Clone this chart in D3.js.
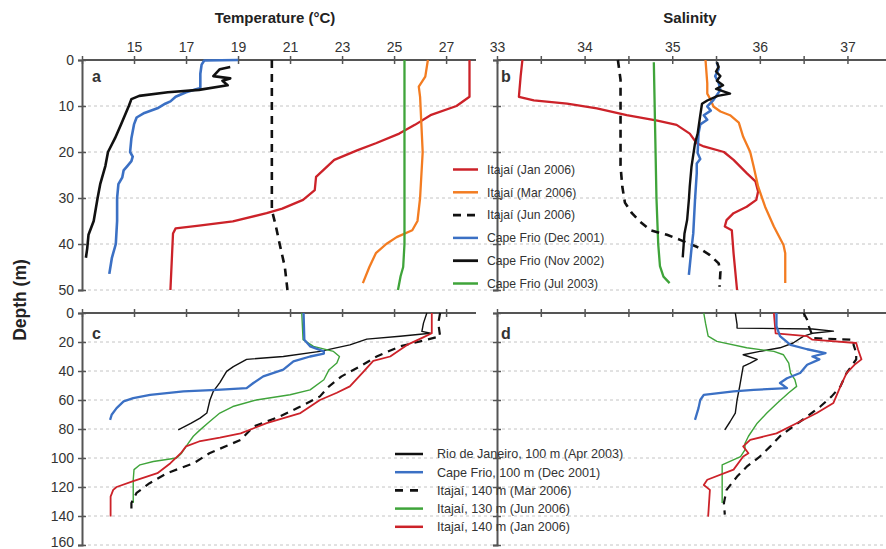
<!DOCTYPE html>
<html>
<head>
<meta charset="utf-8">
<script src="https://cdn.jsdelivr.net/npm/d3@7"></script>
<style>
  html, body { margin: 0; padding: 0; background: #fff; }
  svg { display: block; font-family: "Liberation Sans", Arial, sans-serif; }
</style>
</head>
<body>
<svg id="chart" width="886" height="549"></svg>
<script>
// ---- tick values ----
const tempTicks = [13, 15, 17, 19, 21, 23, 25, 27];
const tempTickLabels = [15, 17, 19, 21, 23, 25, 27];
const salTicks = [33, 33.5, 34, 34.5, 35, 35.5, 36, 36.5, 37];
const salTickLabels = [33, 34, 35, 36, 37];
const depthTicksShelf = [0, 10, 20, 30, 40, 50];
const depthTicksSlope = [0, 20, 40, 60, 80, 100, 120, 140, 160];

// ---- panel a: temperature, inner shelf profiles [depth, °C] ----
const aItajaiJan = [[0,27.9],[8,27.9],[10,27.4],[12,26.4],[14.1,25.8],[16,25.2],[18.1,24.3],[19.6,23.6],[21.7,22.7],[25.4,22.0],[28.3,21.95],[30.4,21.5],[32.3,20.7],[33.3,20.1],[35.1,18.8],[36,17.5],[36.6,16.6],[37.7,16.5],[50,16.4]];
const aItajaiMar = [[0,26.3],[3.6,26.2],[5.8,25.95],[8,26.0],[20,26.1],[30,26.0],[35,25.9],[37,25.7],[38.5,25.1],[40,24.7],[42,24.3],[45,24.05],[48.5,23.8]];
const aItajaiJun = [[0,20.3],[20,20.3],[32.6,20.3],[36,20.45],[40,20.6],[45,20.8],[50,20.9]];
const aCapeFrioDec = [[0,19.0],[0.1,17.7],[1,17.6],[3,17.55],[6.1,17.55],[7,17.0],[8,16.6],[9,16.4],[9.5,16.2],[10.5,15.9],[11.5,15.4],[12.5,15.1],[14,15.0],[17,14.9],[20,14.85],[21,14.95],[22,14.9],[23,14.75],[24,14.6],[25.5,14.55],[27,14.4],[30,14.35],[35,14.35],[40,14.3],[43,14.15],[46.5,14.05]];
const aCapeFrioNov = [[1.5,18.7],[2,18.3],[3.5,18.05],[4,18.7],[4.5,18.4],[5.5,18.6],[6.5,17.5],[7,16.3],[7.8,15.2],[8.5,14.9],[10,14.8],[12,14.65],[14,14.5],[17,14.27],[20,14.0],[23,13.9],[27,13.7],[30,13.6],[35,13.45],[38,13.25],[41,13.2],[43,13.15]];
const aCapeFrioJul = [[0,25.4],[30,25.4],[40,25.4],[45,25.35],[47,25.25],[50,25.15]];

// ---- panel b: salinity, inner shelf profiles [depth, S] ----
const bItajaiJan = [[0,33.29],[3.5,33.27],[8,33.25],[8.8,33.42],[9.5,33.8],[10.5,34.14],[12,34.48],[13.2,34.83],[14.1,35.05],[16,35.2],[18.1,35.28],[18.8,35.36],[20,35.59],[21.7,35.7],[24.6,35.85],[26.4,35.95],[28.6,35.98],[30.4,35.96],[31.9,35.85],[33.3,35.7],[34.8,35.62],[36.2,35.6],[37,35.68],[42,35.7],[50,35.74]];
const bItajaiMar = [[0,35.38],[5.1,35.4],[7.3,35.4],[8.7,35.44],[10.1,35.47],[11.2,35.55],[12,35.66],[13.6,35.76],[16.7,35.81],[20,35.89],[23.2,35.93],[27.5,35.98],[31.9,36.06],[36.2,36.16],[40.2,36.27],[42,36.29],[48.5,36.29]];
const bItajaiJun = [[0,34.38],[4.3,34.41],[23,34.41],[27.5,34.43],[31,34.46],[33.3,34.54],[35.1,34.63],[37,34.75],[38,34.94],[39.1,35.09],[40.6,35.28],[42.4,35.43],[44.2,35.53],[46,35.55],[49.3,35.54]];
const bCapeFrioDec = [[0.5,35.51],[2,35.53],[3.5,35.49],[5,35.53],[6.5,35.55],[8.7,35.47],[10.1,35.4],[11,35.44],[12,35.36],[13,35.4],[14,35.32],[16,35.3],[20.2,35.29],[21.5,35.32],[22.5,35.28],[24.6,35.28],[30.4,35.26],[37.7,35.24],[41,35.22],[46.7,35.19]];
const bCapeFrioNov = [[0.5,35.51],[1.5,35.53],[2.5,35.5],[3.5,35.55],[4.5,35.51],[5.5,35.58],[6.3,35.5],[7.3,35.66],[7.8,35.52],[8.8,35.4],[9.5,35.34],[12,35.32],[16,35.29],[18.1,35.26],[23.2,35.22],[27.5,35.2],[30.4,35.19],[34.8,35.17],[37.7,35.14],[42.9,35.12]];
const bCapeFrioJul = [[0.5,34.79],[30,34.82],[40,34.84],[44.8,34.86],[47.1,34.9],[48.5,34.97]];

// ---- panel c: temperature, outer shelf profiles [depth, °C] ----
const cRioApr = [[0,26.26],[7,26.13],[12.7,26.07],[14,26.4],[16,25.23],[18,23.95],[22,23.3],[26.5,22.15],[30,20.74],[32,19.33],[37,18.82],[40.3,18.56],[48,18.3],[54,18.05],[60,17.92],[69,17.8],[72.5,17.54],[76,17.2],[80.6,16.7]];
const cCapeFrioDec = [[0,21.52],[18.4,21.55],[23,21.77],[26.5,22.3],[28,22.3],[30,21.77],[33.4,21.13],[39.1,20.74],[43.7,19.97],[48.3,19.59],[51.8,19.33],[53,18.18],[54,16.9],[56.4,15.62],[58.7,14.97],[61,14.6],[65.6,14.33],[70.2,14.14],[73.7,14.08]];
const cItajaiMar = [[0,26.77],[7,26.7],[16,26.77],[18.4,26.26],[23,25.23],[30,24.33],[35.7,23.8],[43.7,22.98],[50.6,22.5],[57.5,22.15],[64.5,21.4],[71.4,20.6],[78.3,19.6],[87.5,19.1],[96.7,17.9],[103.6,17.3],[110.5,16.26],[117.4,15.6],[124,15.1],[131,14.9],[138,14.9]];
const cItajaiJun = [[0,21.45],[18.4,21.5],[23,21.9],[26.5,22.67],[30,22.9],[34.5,22.8],[39.1,22.5],[46,22.3],[53,21.77],[56.4,21.0],[60,19.7],[64.5,18.8],[69,18.3],[75,17.9],[80.6,17.54],[85,17.28],[89.8,17.09],[96.7,16.83],[100,16.64],[102.4,15.74],[104.7,15.23],[108,15.0],[115,14.97],[131,14.97]];
const cItajaiJan = [[0,26.45],[14,26.45],[17,26.1],[22,25.5],[30,24.85],[33,24.2],[41,23.8],[50.6,23.3],[55,22.8],[60,22.15],[69,21.4],[76,20.1],[83,19.1],[86,18.3],[88.6,17.5],[92,17.0],[96.7,16.8],[103.6,16.4],[110.5,15.9],[116,14.97],[120,14.33],[122,14.2],[126.6,14.1],[140.4,14.1]];

// ---- panel d: salinity, outer shelf profiles [depth, S] ----
const dRioApr = [[0,35.72],[8,35.74],[10.4,35.74],[11,36.6],[12.5,36.84],[14,36.6],[16,36.5],[20.7,36.38],[24,36.23],[26.5,36.0],[28.8,35.81],[32,35.97],[34.5,35.89],[36.8,35.81],[43.7,35.79],[50.6,35.77],[60,35.74],[69,35.72],[75,35.66],[80.6,35.6]];
const dCapeFrioDec = [[0,36.19],[9,36.19],[16,36.23],[22,36.35],[25,36.54],[27.6,36.75],[30,36.6],[32,36.68],[35.7,36.54],[41.4,36.46],[45,36.31],[48.3,36.23],[51.8,36.31],[53,35.93],[54,35.7],[56.4,35.36],[60,35.32],[65.6,35.3],[73.7,35.26]];
const dItajaiMar = [[0,36.5],[4.6,36.54],[9.2,36.56],[17.3,36.61],[18.5,37.07],[22,37.07],[27.6,37.1],[32,37.1],[41.4,36.99],[50.6,36.92],[57.5,36.82],[64.5,36.69],[71.4,36.54],[78.3,36.38],[85,36.23],[92,36.12],[99,36.0],[106,35.85],[112.8,35.74],[122,35.62],[131,35.59],[139,35.6]];
const dItajaiJun = [[0,35.36],[7,35.38],[16,35.41],[19.6,35.51],[24,35.85],[26.5,36.16],[28.8,36.27],[34.5,36.33],[41.4,36.35],[46,36.4],[50.6,36.42],[55,36.33],[62,36.2],[69,36.08],[76,35.97],[85,35.87],[90,35.83],[94.4,35.83],[99,35.78],[104.7,35.57],[112.8,35.57],[131,35.57]];
const dItajaiJan = [[0,36.16],[14,36.18],[16,36.54],[18.4,36.6],[20.7,37.1],[25,37.12],[32,37.16],[35.7,37.08],[41.4,36.99],[50.6,36.92],[62,36.84],[69,36.65],[76,36.42],[83,36.19],[87.5,35.89],[92,35.81],[96.7,35.87],[99,35.81],[108,35.7],[115,35.4],[118.6,35.36],[122,35.43],[140.4,35.41]];

// ---- legend entries ----
const shelfLegend = ["Itajaí (Jan 2006)", "Itajaí (Mar 2006)", "Itajaí (Jun 2006)", "Cape Frio (Dec 2001)", "Cape Frio (Nov 2002)", "Cape Frio (Jul 2003)"];
const slopeLegend = ["Rio de Janeiro, 100 m (Apr 2003)", "Cape Frio, 100 m (Dec 2001)", "Itajaí, 140 m (Mar 2006)", "Itajaí, 130 m (Jun 2006)", "Itajaí, 140 m (Jan 2006)"];

// ---- styles ----
const RED = "#cc2229", ORANGE = "#f37c21", BLUE = "#3b70c4", BLACK = "#111", GREEN = "#3fa43a";
const AXIS = "#555";

const svg = d3.select("#chart");

const xT = d3.scaleLinear().domain([13, 28.15]).range([82, 476]);
const xS = d3.scaleLinear().domain([33, 37.44]).range([497, 886]);
const yShelf = d3.scaleLinear().domain([0, 50]).range([60, 290]);
const ySlope = d3.scaleLinear().domain([0, 160]).range([313, 545]);

// dashed grid lines running across both panels
function grid(y, ticks) {
  svg.append("g").selectAll("line").data(ticks.filter(t => t > 0)).join("line")
    .attr("x1", 82).attr("x2", 886)
    .attr("y1", d => y(d)).attr("y2", d => y(d))
    .attr("stroke", "#c4c4c4").attr("stroke-width", 1).attr("stroke-dasharray", "3,3");
}
grid(yShelf, depthTicksShelf);
grid(ySlope, depthTicksSlope);

function styleAxis(g) {
  g.select(".domain").attr("stroke", AXIS).attr("stroke-width", 2);
  g.selectAll(".tick line").attr("stroke", AXIS).attr("stroke-width", 1.5);
  g.selectAll(".tick text").attr("fill", "#333").style("font-size", "14px").style("font-family", "Liberation Sans, Arial, sans-serif");
}

function topAxis(x, y0, ticks, labels, showLabels) {
  const ax = d3.axisTop(x).tickValues(ticks).tickSizeOuter(0).tickSize(4)
    .tickFormat(d => showLabels && labels.includes(d) ? d3.format("d")(d) : "");
  const g = svg.append("g").attr("transform", `translate(0,${y0})`).call(ax);
  g.select(".domain").attr("d", `M${x.range()[0]},0H${x.range()[1]}`);
  g.selectAll(".tick line").attr("y1", 4).attr("y2", -4);
  g.selectAll(".tick text").attr("y", -8);
  styleAxis(g);
}

function leftAxis(y, x0, ticks, showLabels) {
  const ax = d3.axisLeft(y).tickValues(ticks).tickSizeOuter(0).tickSize(4)
    .tickFormat(d => showLabels ? d : "");
  const g = svg.append("g").attr("transform", `translate(${x0},0)`).call(ax);
  g.selectAll(".tick line").attr("x1", 4).attr("x2", -4);
  g.selectAll(".tick text").attr("x", -8).attr("dy", "0.35em");
  styleAxis(g);
  // keep the deepest label inside the frame
  g.selectAll(".tick").filter(d => d === 160).select("text").attr("dy", "0.1em");
}

leftAxis(yShelf, 82, depthTicksShelf, true);
leftAxis(ySlope, 82, depthTicksSlope, true);
leftAxis(yShelf, 497, depthTicksShelf, false);
leftAxis(ySlope, 497, depthTicksSlope, false);
topAxis(xT, 60, tempTicks, tempTickLabels, true);
topAxis(xS, 60, salTicks, salTickLabels, true);
topAxis(xT, 313, tempTicks, tempTickLabels, false);
topAxis(xS, 313, salTicks, salTickLabels, false);

// titles
svg.append("text").attr("x", 275).attr("y", 23).attr("text-anchor", "middle")
  .attr("font-weight", "bold").attr("font-size", 15).attr("fill", "#222").text("Temperature (°C)");
svg.append("text").attr("x", 690).attr("y", 23).attr("text-anchor", "middle")
  .attr("font-weight", "bold").attr("font-size", 15).attr("fill", "#222").text("Salinity");
svg.append("text").attr("transform", "translate(26,300) rotate(-90)").attr("text-anchor", "middle")
  .attr("font-weight", "bold").attr("font-size", 17.5).attr("fill", "#222").text("Depth (m)");

// panel letters
[["a", 92, 82], ["b", 501, 82], ["c", 92, 339], ["d", 501, 339]].forEach(([t, x, y]) => {
  svg.append("text").attr("x", x).attr("y", y).attr("font-weight", "bold")
    .attr("font-size", 16).attr("fill", "#333").text(t);
});

// profile drawing: value on x, depth on y
function profile(data, x, y, color, width, dash) {
  const line = d3.line().x(d => x(d[1])).y(d => y(d[0])).curve(d3.curveLinear);
  svg.append("path").datum(data).attr("d", line)
    .attr("fill", "none").attr("stroke", color).attr("stroke-width", width)
    .attr("stroke-linejoin", "round").attr("stroke-dasharray", dash || null);
}

// panel a
profile(aItajaiJan, xT, yShelf, RED, 2.3);
profile(aItajaiMar, xT, yShelf, ORANGE, 2.3);
profile(aCapeFrioJul, xT, yShelf, GREEN, 2.3);
profile(aItajaiJun, xT, yShelf, BLACK, 2.6, "8,6");
profile(aCapeFrioDec, xT, yShelf, BLUE, 2.6);
profile(aCapeFrioNov, xT, yShelf, BLACK, 2.6);

// panel b
profile(bItajaiJan, xS, yShelf, RED, 2.3);
profile(bItajaiMar, xS, yShelf, ORANGE, 2.3);
profile(bCapeFrioJul, xS, yShelf, GREEN, 2.3);
profile(bItajaiJun, xS, yShelf, BLACK, 2.6, "8,6");
profile(bCapeFrioDec, xS, yShelf, BLUE, 2.5);
profile(bCapeFrioNov, xS, yShelf, BLACK, 2.4);

// panel c
profile(cRioApr, xT, ySlope, BLACK, 1.4);
profile(cItajaiJun, xT, ySlope, GREEN, 1.4);
profile(cItajaiMar, xT, ySlope, BLACK, 2.2, "8,6");
profile(cItajaiJan, xT, ySlope, RED, 1.8);
profile(cCapeFrioDec, xT, ySlope, BLUE, 2.3);

// panel d
profile(dRioApr, xS, ySlope, BLACK, 1.4);
profile(dItajaiJun, xS, ySlope, GREEN, 1.4);
profile(dItajaiMar, xS, ySlope, BLACK, 2.2, "8,6");
profile(dItajaiJan, xS, ySlope, RED, 1.8);
profile(dCapeFrioDec, xS, ySlope, BLUE, 2.3);

// legends
function legend(entries, colors, dashes, widths, x0, y0, dy, len, gap, fontSize) {
  const g = svg.append("g");
  entries.forEach((t, i) => {
    const y = y0 + i * dy;
    g.append("line").attr("x1", x0).attr("x2", x0 + len).attr("y1", y).attr("y2", y)
      .attr("stroke", colors[i]).attr("stroke-width", widths[i]).attr("stroke-dasharray", dashes[i] || null);
    g.append("text").attr("x", x0 + len + gap).attr("y", y).attr("dy", "0.35em")
      .attr("font-size", fontSize).attr("fill", "#333").text(t);
  });
}
legend(shelfLegend, [RED, ORANGE, BLACK, BLUE, BLACK, GREEN], [null, null, "8,6", null, null, null],
  [2.5, 2.5, 2.8, 2.5, 2.8, 2.5], 453, 169.5, 22.8, 25, 9, 12.2);
legend(slopeLegend, [BLACK, BLUE, BLACK, GREEN, RED], [null, null, "8,7", null, null],
  [2.5, 2.5, 2.8, 2.5, 2.5], 395, 454, 18.2, 28, 14, 12.6);
</script>
</body>
</html>
